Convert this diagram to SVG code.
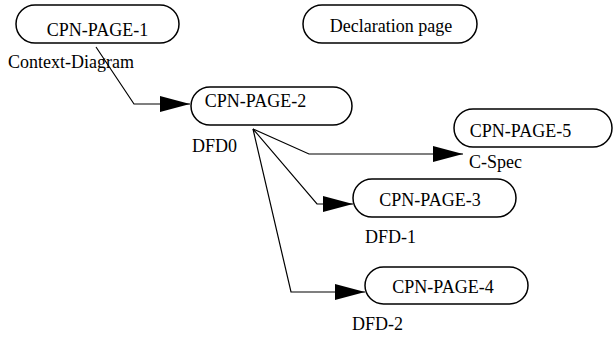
<svg xmlns="http://www.w3.org/2000/svg" width="614" height="346" viewBox="0 0 614 346">
  <defs>
    <marker id="arrow" viewBox="0 0 30 16" refX="30" refY="8" markerWidth="30" markerHeight="16" markerUnits="userSpaceOnUse" orient="auto">
      <path d="M0,0 L30,8 L0,16 Z" fill="#000"/>
    </marker>
  </defs>
  <style>
    .node rect { fill: #fff; stroke: #000; stroke-width: 1.5; }
    .node text, .lbl { font-family: "Liberation Serif", "Times New Roman", serif; font-size: 18px; fill: #000; }
    .node text { text-anchor: middle; }
    .edge { fill: none; stroke: #000; stroke-width: 1.2; marker-end: url(#arrow); }
  </style>
  <rect width="614" height="346" fill="#fff"/>

  <g id="connectors">
    <polyline class="edge" points="96,47 134,104 190,104"/>
    <polyline class="edge" points="253,129 309,154 463,154"/>
    <polyline class="edge" points="253,129 317,204 353,204"/>
    <polyline class="edge" points="253,129 291,292 365,292"/>
  </g>

  <g id="cpn-page-1" class="node">
    <rect x="16" y="5" width="163" height="38" rx="19"/>
    <text x="97.5" y="36">CPN-PAGE-1</text>
  </g>
  <text class="lbl" x="8" y="68">Context-Diagram</text>

  <g id="declaration-page" class="node">
    <rect x="303" y="5" width="174" height="38" rx="19"/>
    <text x="391" y="32">Declaration page</text>
  </g>

  <g id="cpn-page-2" class="node">
    <rect x="191" y="87" width="161" height="38" rx="19"/>
    <text x="255.5" y="107">CPN-PAGE-2</text>
  </g>
  <text class="lbl" x="192" y="152">DFD0</text>

  <g id="cpn-page-5" class="node">
    <rect x="454" y="109" width="158" height="38" rx="19"/>
    <text x="520.5" y="137">CPN-PAGE-5</text>
  </g>
  <text class="lbl" x="469" y="168">C-Spec</text>

  <g id="cpn-page-3" class="node">
    <rect x="353" y="179" width="163" height="38" rx="19"/>
    <text x="430" y="206">CPN-PAGE-3</text>
  </g>
  <text class="lbl" x="365" y="243">DFD-1</text>

  <g id="cpn-page-4" class="node">
    <rect x="365" y="267" width="163" height="37" rx="18.5"/>
    <text x="443" y="293">CPN-PAGE-4</text>
  </g>
  <text class="lbl" x="352" y="330">DFD-2</text>
</svg>
